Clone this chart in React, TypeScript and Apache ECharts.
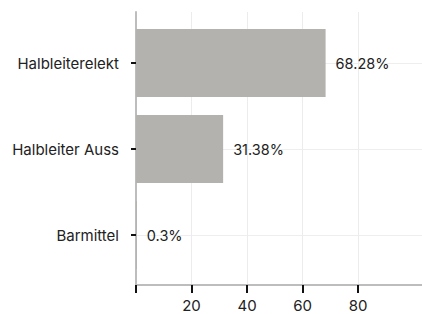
import React, { useEffect, useRef } from "react";
import * as echarts from "echarts";

const categories = ["Halbleiterelekt", "Halbleiter Auss", "Barmittel"];
const values = [68.28, 31.38, 0.3];
const valueLabels = ["68.28%", "31.38%", "0.3%"];
const xTickLabels = [20, 40, 60, 80];
const xTicks = [0, 20, 40, 60, 80];
const xGrid = [20, 40, 60, 80, 100];

export default function App() {
  const ref = useRef<HTMLDivElement>(null);
  useEffect(() => {
    const chart = echarts.init(ref.current!, null, { renderer: "svg" });
    const font = "Inter, 'Noto Sans', sans-serif";
    chart.setOption({
      animation: false,
      grid: [
        { left: 136, right: 0, top: 63, height: 172 },
        { left: 136, right: 0, top: 12, height: 273 },
      ],
      xAxis: [
        {
          gridIndex: 0,
          type: "value",
          min: 0,
          max: 103,
          show: false,
        },
        {
          gridIndex: 1,
          type: "value",
          min: 0,
          max: 103,
          interval: 20,
          axisLine: { show: true, lineStyle: { color: "#bdbdbd", width: 2 } },
          axisTick: {
            show: true,
            customValues: xTicks,
            length: 8,
            lineStyle: { color: "#111", width: 2 },
          },
          axisLabel: {
            customValues: xTickLabels,
            color: "#222",
            fontSize: 15,
            lineHeight: 15,
            fontFamily: font,
            margin: 13,
          },
          splitLine: {
            show: true,
            customValues: xGrid,
            lineStyle: { color: "#ececec", width: 1 },
          },
        },
      ],
      yAxis: [
        {
          gridIndex: 0,
          type: "category",
          data: categories,
          inverse: true,
          boundaryGap: false,
          offset: 3,
          axisLine: { show: false },
          axisTick: {
            show: true,
            length: 5,
            lineStyle: { color: "#111", width: 2 },
          },
          axisLabel: {
            color: "#222",
            fontSize: 15,
            fontFamily: font,
            margin: 14,
          },
          splitLine: { show: true, lineStyle: { color: "#eeeeee", width: 1 } },
        },
        {
          gridIndex: 1,
          type: "value",
          min: 0,
          max: 1,
          axisLine: { show: true, lineStyle: { color: "#bdbdbd", width: 2 } },
          axisTick: { show: false },
          axisLabel: { show: false },
          splitLine: { show: false },
        },
      ],
      series: [
        {
          type: "bar",
          xAxisIndex: 0,
          yAxisIndex: 0,
          data: values,
          barWidth: 68,
          itemStyle: { color: "#b3b2ae" },
          label: {
            show: true,
            position: "right",
            distance: 10,
            color: "#222",
            fontSize: 14.5,
            fontFamily: font,
            formatter: (p: any) => valueLabels[p.dataIndex],
          },
          z: 3,
        },
      ],
    });
    return () => chart.dispose();
  }, []);
  return (
    <div
      ref={ref}
      style={{ position: "absolute", left: 0, top: 0, width: 422, height: 314 }}
    />
  );
}
